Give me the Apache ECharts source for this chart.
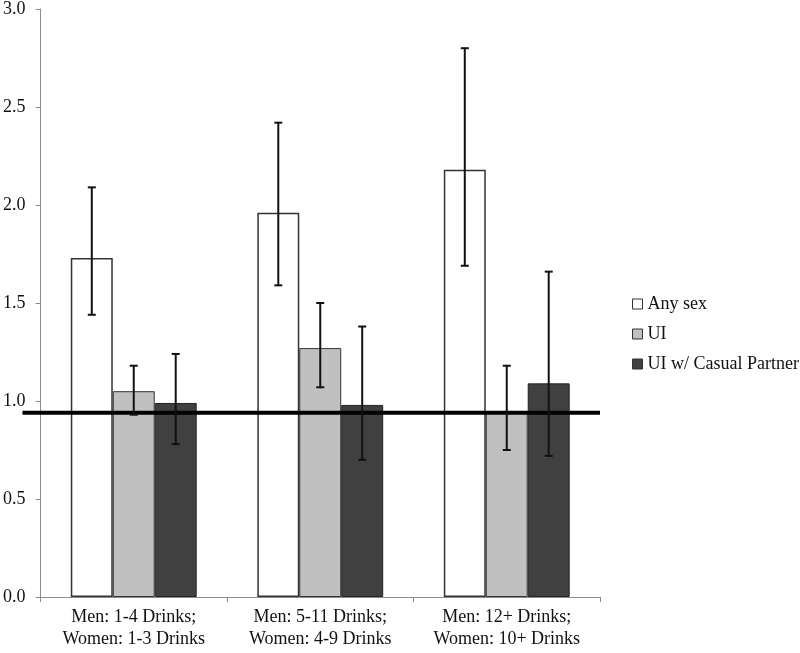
<!DOCTYPE html>
<html><head><meta charset="utf-8">
<script src="https://cdn.jsdelivr.net/npm/echarts@6/dist/echarts.min.js"></script>
<style>html,body{margin:0;padding:0;background:#fff}#c{width:800px;height:653px}</style>
</head><body><div id="c"></div>
<script>
var categories = ['Men: 1-4 Drinks;\nWomen: 1-3 Drinks', 'Men: 5-11 Drinks;\nWomen: 4-9 Drinks', 'Men: 12+ Drinks;\nWomen: 10+ Drinks'];
var seriesNames = ['Any sex', 'UI', 'UI w/ Casual Partner'];
var anySex = [1.73, 1.96, 2.18];
var anySexLow = [1.44, 1.59, 1.69];
var anySexHigh = [2.09, 2.42, 2.80];
var ui = [1.05, 1.27, 0.94];
var uiLow = [0.93, 1.07, 0.75];
var uiHigh = [1.18, 1.50, 1.18];
var casual = [0.99, 0.98, 1.09];
var casualLow = [0.78, 0.70, 0.72];
var casualHigh = [1.24, 1.38, 1.66];
var referenceValue = 0.94;

var FONT = '"Liberation Serif", "Times New Roman", serif';
var chart = echarts.init(document.getElementById('c'));

var barStyles = [
  {color: '#ffffff', borderColor: '#333333', borderWidth: 1.5},
  {color: '#c0c0c0', borderColor: '#333333', borderWidth: 1},
  {color: '#404040', borderColor: '#222222', borderWidth: 1}
];
var values = [anySex, ui, casual];
var lows = [anySexLow, uiLow, casualLow];
var highs = [anySexHigh, uiHigh, casualHigh];
var nSeries = 3;
var barGapPct = 0.325;

function errorSeries(idx) {
  var data = categories.map(function (c, i) { return [i, lows[idx][i], highs[idx][i]]; });
  return {
    type: 'custom',
    name: seriesNames[idx] + ' err',
    z: 10,
    data: data,
    encode: {x: 0, y: [1, 2]},
    renderItem: function (params, api) {
      var ci = api.value(0);
      var lo = api.coord([ci, api.value(1)]);
      var hi = api.coord([ci, api.value(2)]);
      var band = api.size([1, 0])[0];
      var groupW = band * (1 - barGapPct);
      var bw = groupW / nSeries;
      var x = lo[0] - groupW / 2 + bw * (idx + 0.5);
      var cap = 4;
      var st = {stroke: '#111111', lineWidth: 2};
      return {type: 'group', children: [
        {type: 'line', shape: {x1: x, y1: hi[1], x2: x, y2: lo[1]}, style: st},
        {type: 'line', shape: {x1: x - cap, y1: hi[1], x2: x + cap, y2: hi[1]}, style: st},
        {type: 'line', shape: {x1: x - cap, y1: lo[1], x2: x + cap, y2: lo[1]}, style: st}
      ]};
    }
  };
}

var series = [];
for (var s = 0; s < nSeries; s++) {
  series.push({
    type: 'bar', name: seriesNames[s], data: values[s],
    barGap: '0%', barCategoryGap: (barGapPct * 100) + '%',
    itemStyle: barStyles[s], z: 2
  });
}
for (var e = 0; e < nSeries; e++) series.push(errorSeries(e));
series.push({
  type: 'custom', name: 'ref', z: 9, silent: true,
  data: [[0, referenceValue]],
  encode: {y: 1},
  renderItem: function (params, api) {
    var p = api.coord([0, api.value(1)]);
    var cs = params.coordSys;
    return {type: 'line', shape: {x1: cs.x - 18, y1: p[1], x2: cs.x + cs.width, y2: p[1]},
      style: {stroke: '#000000', lineWidth: 4}};
  }
});

chart.setOption({
  animation: false,
  backgroundColor: '#ffffff',
  grid: {left: 40, right: 200, top: 7, bottom: 56, containLabel: false},
  legend: {
    orient: 'vertical', left: 632, top: 295, padding: 0,
    itemWidth: 10, itemHeight: 10, itemGap: 12,
    icon: 'rect',
    textStyle: {fontFamily: FONT, fontSize: 18, color: '#111'},
    data: seriesNames.map(function (n, i) {
      return {name: n, itemStyle: {color: barStyles[i].color, borderColor: '#333', borderWidth: 1}};
    })
  },
  xAxis: {
    type: 'category', data: categories,
    axisLine: {lineStyle: {color: '#8c8c8c', width: 1}},
    axisTick: {show: true, alignWithLabel: false, length: 5, lineStyle: {color: '#8c8c8c'}},
    axisLabel: {fontFamily: FONT, fontSize: 18, color: '#111', margin: 9, lineHeight: 22, interval: 0}
  },
  yAxis: {
    type: 'value', min: 0, max: 3, interval: 0.5,
    splitLine: {show: false},
    axisLine: {show: true, lineStyle: {color: '#8c8c8c', width: 1}},
    axisTick: {show: true, length: 5, lineStyle: {color: '#8c8c8c'}},
    axisLabel: {fontFamily: FONT, fontSize: 18, color: '#111', margin: 15,
      formatter: function (v) { return v.toFixed(1); }}
  },
  series: series
});
</script></body></html>
